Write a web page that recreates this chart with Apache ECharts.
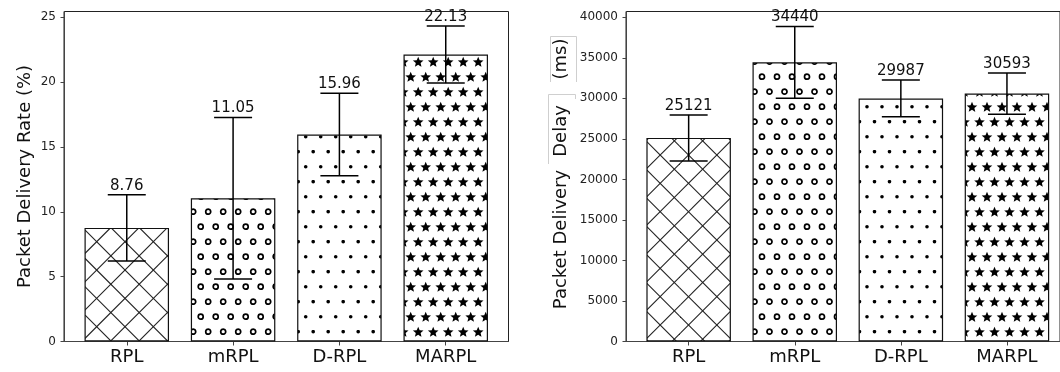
<!DOCTYPE html>
<html><head><meta charset="utf-8">
<script src="https://cdn.jsdelivr.net/npm/echarts@6/dist/echarts.min.js"></script>
<style>html,body{margin:0;padding:0;background:#fff}#c{width:1060px;height:372px}</style>
</head><body><div id="c"></div>
<script>
const categories = ['RPL', 'mRPL', 'D-RPL', 'MARPL'];
const pdrValues = [8.76, 11.05, 15.96, 22.13];
const pdrErrors = [2.56, 6.23, 3.18, 2.20];
const delayValues = [25121, 34440, 29987, 30593];
const delayErrors = [2840, 4420, 2270, 2550];
const pdrTicks = [0, 5, 10, 15, 20, 25];
const delayTicks = [0, 5000, 10000, 15000, 20000, 25000, 30000, 35000, 40000];
const pdrTitle = 'Packet Delivery Rate (%)';
const delayTitleParts = ['Packet Delivery', 'Delay', '(ms)'];

const FONT = 'DejaVu Sans';

function makeCanvas(w, h) { const c = document.createElement('canvas'); c.width = w; c.height = h; return c; }
function latticeTile(ox, oy, draw) {
  const c = makeCanvas(15, 30), g = c.getContext('2d');
  g.fillStyle = '#fff'; g.fillRect(0, 0, 15, 30);
  const pts = [[ox, oy], [ox + 7.5, oy - 15]];
  for (const [px, py] of pts) {
    const bx = ((px % 15) + 15) % 15, by = ((py % 30) + 30) % 30;
    for (let dx = -1; dx <= 1; dx++) for (let dy = -1; dy <= 1; dy++) draw(g, bx + dx * 15, by + dy * 30);
  }
  return c;
}
function ring(g, x, y) { g.beginPath(); g.arc(x, y, 2.5, 0, Math.PI * 2); g.lineWidth = 1.7; g.strokeStyle = '#000'; g.stroke(); }
function dot(g, x, y) { g.beginPath(); g.arc(x, y, 1.8, 0, Math.PI * 2); g.fillStyle = '#000'; g.fill(); }
function star(g, x, y) {
  g.beginPath();
  for (let k = 0; k < 10; k++) {
    const r = k % 2 === 0 ? 5.6 : 2.5;
    const a = -Math.PI / 2 + k * Math.PI / 5;
    const px = x + r * Math.cos(a), py = y + 0.6 + r * Math.sin(a);
    if (k === 0) g.moveTo(px, py); else g.lineTo(px, py);
  }
  g.closePath(); g.fillStyle = '#000'; g.fill();
}
function crossTile(cx, cy) {
  const S = 85, p = S / 3;
  const c = makeCanvas(S, S), g = c.getContext('2d');
  g.fillStyle = '#fff'; g.fillRect(0, 0, S, S);
  g.strokeStyle = '#222'; g.lineWidth = 1.1;
  for (let k = -12; k <= 12; k++) {
    const a = cy - cx + k * p;
    g.beginPath(); g.moveTo(-10, -10 + a); g.lineTo(S + 10, S + 10 + a); g.stroke();
    const b = cx + cy + k * p;
    g.beginPath(); g.moveTo(-10, b + 10); g.lineTo(S + 10, b - S - 10); g.stroke();
  }
  return c;
}
function patterns(ox, crossX, crossY) {
  return [
    crossTile(crossX, crossY),
    latticeTile(ox, 16.7, ring),
    latticeTile(ox, 16.7, dot),
    latticeTile(ox, 16.7, star)
  ].map(c => ({ image: c, repeat: 'repeat' }));
}
const leftPat = patterns(5.7, 40, 71.7);
const rightPat = patterns(12, 8.5, 70);

function barData(vals, pats) {
  return vals.map((v, i) => ({ value: v, itemStyle: { color: pats[i] } }));
}
function errData(vals, errs) { return vals.map((v, i) => [i, v, errs[i]]); }
function errSeries(xi, yi, vals, errs, fmt) {
  return {
    type: 'custom', xAxisIndex: xi, yAxisIndex: yi, z: 5,
    data: errData(vals, errs), encode: { x: 0, y: 1 },
    renderItem(params, api) {
      const i = api.value(0), v = api.value(1), e = api.value(2);
      const t = api.coord([i, v + e]), b = api.coord([i, v - e]);
      const x = t[0];
      const ls = { stroke: '#000', lineWidth: 1.5 };
      return { type: 'group', children: [
        { type: 'line', shape: { x1: x, y1: t[1], x2: x, y2: b[1] }, style: ls },
        { type: 'line', shape: { x1: x - 19, y1: t[1], x2: x + 19, y2: t[1] }, style: ls },
        { type: 'line', shape: { x1: x - 19, y1: b[1], x2: x + 19, y2: b[1] }, style: ls },
        { type: 'text', style: { text: fmt(v), x: x, y: t[1] - 1.5, align: 'center', verticalAlign: 'bottom',
          fontSize: 15, fontFamily: FONT, fill: '#111' } }
      ] };
    }
  };
}

const axisColor = '#444';
function frameX(gi) {
  return { gridIndex: gi, type: 'value', min: 0, max: 1,
    axisLine: { show: true, onZero: false, lineStyle: { color: axisColor, width: 1 } },
    axisTick: { show: false }, axisLabel: { show: false }, splitLine: { show: false } };
}
function catX(gi) {
  return { gridIndex: gi, type: 'category', data: categories,
    axisLine: { show: false },
    axisTick: { show: true, alignWithLabel: true, length: 4, lineStyle: { color: axisColor } },
    axisLabel: { fontSize: 18, color: '#111', margin: 7, fontFamily: FONT },
    splitLine: { show: false } };
}
function valY(gi, max, ticks, name, gap) {
  return { gridIndex: gi, type: 'value', min: 0, max: max,
    axisLine: { show: true, onZero: false, lineStyle: { color: axisColor, width: 1 } },
    axisTick: { show: true, length: 3.5, customValues: ticks, lineStyle: { color: axisColor } },
    axisLabel: { fontSize: 12, color: '#222', margin: 8, fontFamily: FONT, customValues: ticks,
      formatter: v => String(v) },
    splitLine: { show: false },
    name: name, nameLocation: 'middle', nameGap: gap, nameRotate: 90,
    nameTextStyle: { fontSize: 18, color: '#111', fontFamily: FONT } };
}
function hidY(gi, max) { return { gridIndex: gi, type: 'value', min: 0, max: max, show: false, splitLine: { show: false } }; }

function vText(text, x, y) {
  return { type: 'text', x: x, y: y, rotation: Math.PI / 2, z: 10,
    style: { text: text, align: 'center', verticalAlign: 'middle', fontSize: 18, fontFamily: FONT, fill: '#111' } };
}
function boxEdge(points) {
  return { type: 'polyline', z: 9, shape: { points: points }, style: { stroke: '#cfcfcf', lineWidth: 1, fill: null } };
}

const PDR_MAX = 25.45, DELAY_MAX = 40716;
const option = {
  animation: false,
  textStyle: { fontFamily: FONT },
  grid: [
    { left: 64, top: 11.5, width: 444.5, height: 330, show: true, borderColor: '#222', borderWidth: 1 },
    { left: 73.6, top: 11.5, width: 425.3, height: 330 },
    { left: 626, top: 11.5, width: 444.5, height: 330, show: true, borderColor: '#222', borderWidth: 1 },
    { left: 635.6, top: 11.5, width: 425.3, height: 330 }
  ],
  xAxis: [frameX(0), catX(1), frameX(2), catX(3)],
  yAxis: [
    valY(0, PDR_MAX, pdrTicks, pdrTitle, 30),
    hidY(1, PDR_MAX),
    valY(2, DELAY_MAX, delayTicks, '', 52),
    hidY(3, DELAY_MAX)
  ],
  graphic: [
    boxEdge([[548.5, 164], [548.5, 94.5], [575.5, 94.5], [575.5, 99]]),
    boxEdge([[550.5, 82], [550.5, 36.5], [576.5, 36.5], [576.5, 82]]),
    vText(delayTitleParts[0], 561.5, 239.5),
    vText(delayTitleParts[1], 561.5, 131),
    vText(delayTitleParts[2], 561.5, 59)
  ],
  series: [
    { type: 'bar', xAxisIndex: 1, yAxisIndex: 1, barWidth: 84.5, data: barData(pdrValues, leftPat),
      itemStyle: { borderColor: '#111', borderWidth: 1.2 } },
    errSeries(1, 1, pdrValues, pdrErrors, v => v.toFixed(2)),
    { type: 'bar', xAxisIndex: 3, yAxisIndex: 3, barWidth: 84.5, data: barData(delayValues, rightPat),
      itemStyle: { borderColor: '#111', borderWidth: 1.2 } },
    errSeries(3, 3, delayValues, delayErrors, v => String(v))
  ]
};
const chart = echarts.init(document.getElementById('c'), null, { renderer: 'canvas' });
chart.setOption(option);
</script></body></html>
